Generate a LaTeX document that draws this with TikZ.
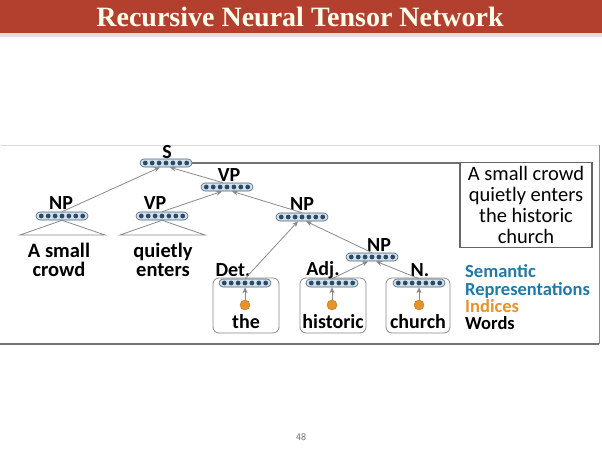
\documentclass[tikz,border=0pt]{standalone}
\usepackage{fontspec}
\setmainfont{Carlito}
\newfontfamily\titlefont{Liberation Serif}
\usetikzlibrary{arrows.meta}
\definecolor{titlered}{HTML}{B3402F}
\definecolor{vecfill}{HTML}{D3E1EC}
\definecolor{vecedge}{HTML}{4A6478}
\definecolor{dotcol}{HTML}{2C4A66}
\definecolor{semblue}{HTML}{1F7AA8}
\definecolor{idxorange}{HTML}{E8922C}
\definecolor{linegray}{HTML}{8A8A8A}
\tikzset{
  vec/.style={draw=vecedge, fill=vecfill, line width=0.6pt, rounded corners=4pt,
    minimum width=52pt, minimum height=8pt, inner sep=0pt,
    path picture={\foreach \i in {-3,...,3}{\fill[dotcol] ([xshift=\i*6.9pt]path picture bounding box.center) circle (2.4pt);}}},
  lab/.style={font=\bfseries\fontsize{20}{20}\selectfont, inner sep=0pt},
  word/.style={font=\bfseries\fontsize{20.5}{19}\selectfont, inner sep=0pt, align=center},
  conn/.style={draw=linegray, line width=0.8pt, -{Stealth[length=6pt,width=5pt,fill=black!70]}},
  tri/.style={draw=linegray, line width=0.8pt},
  wbox/.style={draw=linegray, line width=0.8pt, rounded corners=6pt, minimum width=66pt, minimum height=55pt, inner sep=0pt},
  idx/.style={circle, fill=idxorange, draw=idxorange!80!black, line width=0.4pt, minimum size=10pt, inner sep=0pt},
  legend/.style={font=\bfseries\fontsize{18.5}{18.5}\selectfont, inner sep=0pt, anchor=base west}
}
\begin{document}
\begin{tikzpicture}[x=1pt,y=-1pt]
\useasboundingbox (0,0) rectangle (602,452);
\fill[white] (0,0) rectangle (602,452);
% title bar
\fill[black!12] (0,33) rectangle (602,37);
\fill[titlered] (0,0) rectangle (602,33);
\node[font=\titlefont\bfseries\fontsize{28}{28}\selectfont, text=white!92!yellow, inner sep=0pt] (title) at (300,17) {Recursive Neural Tensor Network};
% frame
\draw[black!15, line width=0.8pt] (0.5,145) -- (599,145);
\draw[black!45, line width=1pt] (599,145) -- (599,344);
\draw[black!55, line width=1.2pt] (0,344) -- (599,344);
% word boxes
\node[wbox] (bdet) at (246,305.5) {};
\node[wbox] (badj) at (333,305.5) {};
\node[wbox, minimum width=64pt] (bn) at (418,305.5) {};
% vectors
\node[vec] (s) at (166,163) {};
\node[vec] (vp1) at (227,187) {};
\node[vec] (npl) at (62,216) {};
\node[vec] (vp2) at (162,216) {};
\node[vec] (np2) at (302,217) {};
\node[vec] (np3) at (372,257) {};
\node[vec] (vdet) at (245,283) {};
\node[vec] (vadj) at (332,283) {};
\node[vec] (vn) at (419,283) {};
% labels
\node[lab] (ls) at (167,152) {S};
\node[lab] (lvp1) at (229,175) {VP};
\node[lab] (lnpl) at (61,203) {NP};
\node[lab] (lvp2) at (155,203) {VP};
\node[lab] (lnp2) at (302,204) {NP};
\node[lab] (lnp3) at (379,245) {NP};
\node[lab] (ldet) at (233,270) {Det.};
\node[lab] (ladj) at (323,270) {Adj.};
\node[lab] (ln) at (420,270) {N.};
% sentence box and line from S
\node[draw=black!60, line width=1.3pt, minimum width=132pt, minimum height=85pt, inner sep=0pt, align=center, font=\fontsize{20.5}{20.7}\selectfont] (sent) at (526,205) {A small crowd\\quietly enters\\the historic\\church};
\draw[black!55, line width=1.3pt] (s.east) -- (sent.west |- s.east);
% triangles
\coordinate (t1l) at (20,235); \coordinate (t1r) at (105,235);
\coordinate (t2l) at (120,235); \coordinate (t2r) at (205,235);
\draw[tri] (t1l) -- (npl.south) -- (t1r) -- cycle;
\draw[tri] (t2l) -- (vp2.south) -- (t2r) -- cycle;
\node[word] (w1) at (59,260) {A small\\crowd};
\node[word] (w2) at (163,260) {quietly\\enters};
% indices and words
\node[idx] (i1) at (245,305) {};
\node[idx] (i2) at (332,305) {};
\node[idx] (i3) at (419,305) {};
\node[lab] (wthe) at (246,322) {the};
\node[lab] (whist) at (333,322) {historic};
\node[lab] (wch) at (418,322) {church};
\draw[conn] (i1) -- (vdet);
\draw[conn] (i2) -- (vadj);
\draw[conn] (i3) -- (vn);
% tree connectors
\draw[conn] (npl.north) -- ([xshift=-6pt]s.south);
\draw[conn] ([xshift=-4pt]vp1.north) -- ([xshift=4pt]s.south);
\draw[conn] (vp2.north) -- ([xshift=-5pt]vp1.south);
\draw[conn] (np2.north) -- ([xshift=5pt]vp1.south);
\draw[conn] (vdet.north) -- ([xshift=-4pt]np2.south);
\draw[conn] (np3.north) -- ([xshift=4pt]np2.south);
\draw[conn] (vadj.north) -- ([xshift=-4pt]np3.south);
\draw[conn] (vn.north) -- ([xshift=4pt]np3.south);
% legend
\node[legend, text=semblue] (lg1) at (465,277) {Semantic};
\node[legend, text=semblue] (lg2) at (465,295) {Representations};
\node[legend, text=idxorange] (lg3) at (465,312) {Indices};
\node[legend, text=black] (lg4) at (465,329) {Words};
% page number
\node[font=\sffamily\fontsize{10}{10}\selectfont, text=black!60] (pg) at (301,437) {48};
\end{tikzpicture}
\end{document}
